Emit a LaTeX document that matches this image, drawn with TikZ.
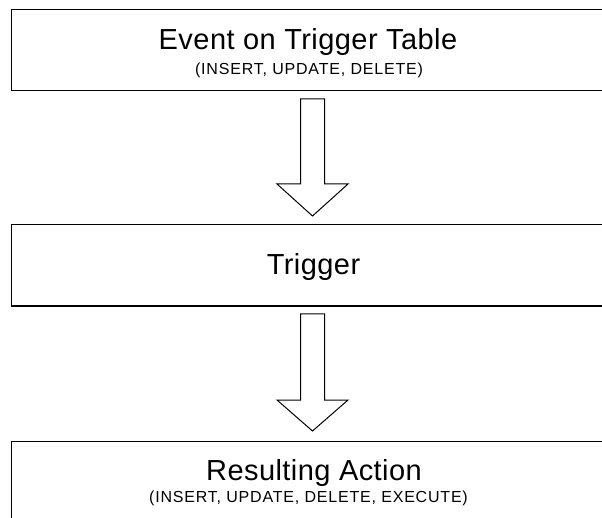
\documentclass[tikz,border=0pt]{standalone}
\usepackage{fontspec}
\setmainfont{Liberation Sans}
\begin{document}
\begin{tikzpicture}[x=1pt,y=-1pt,
  box/.style={draw=black, line width=1.1pt, rectangle, anchor=north west, inner sep=0pt, minimum width=615pt},
  big/.style={font=\fontsize{29}{35}\selectfont\addfontfeature{LetterSpace=1.5}, anchor=base, inner sep=0pt},
  small/.style={font=\fontsize{16}{19}\selectfont\addfontfeature{LetterSpace=5}, anchor=base, inner sep=0pt},
  blockarrow/.style={draw=black, line width=1pt, fill=white, line join=miter}]
\useasboundingbox (0,0) rectangle (602,518);
\clip (0,0) rectangle (602,518);
\fill[white] (0,0) rectangle (602,518);
% boxes
\node[box, minimum height=81pt] (event) at (11,9) {};
\node[box, minimum height=81.5pt] (trigger) at (11,224) {};
\node[box, minimum height=90pt] (action) at (11,441) {};
% texts
\node[big] (t1) at (308,49.5) {Event on Trigger Table};
\node[small] (s1) at (309,75) {(INSERT, UPDATE, DELETE)};
\node[big] (t2) at (313.5,275) {Trigger};
\node[big] (t3) at (314,480) {Resulting Action};
\node[small] (s3) at (308.5,502.5) {(INSERT, UPDATE, DELETE, EXECUTE)};
% block arrows
\coordinate (a1) at (312.5,99);
\coordinate (a2) at (312.5,314);
\draw[blockarrow] (a1) ++(-12,0) -- ++(24,0) -- ++(0,85) -- ++(23.5,0) -- ++(-35.5,32) -- ++(-35.5,-32) -- ++(23.5,0) -- cycle;
\draw[blockarrow] (a2) ++(-12,0) -- ++(24,0) -- ++(0,86) -- ++(23.5,0) -- ++(-35.5,31) -- ++(-35.5,-31) -- ++(23.5,0) -- cycle;
\end{tikzpicture}
\end{document}
